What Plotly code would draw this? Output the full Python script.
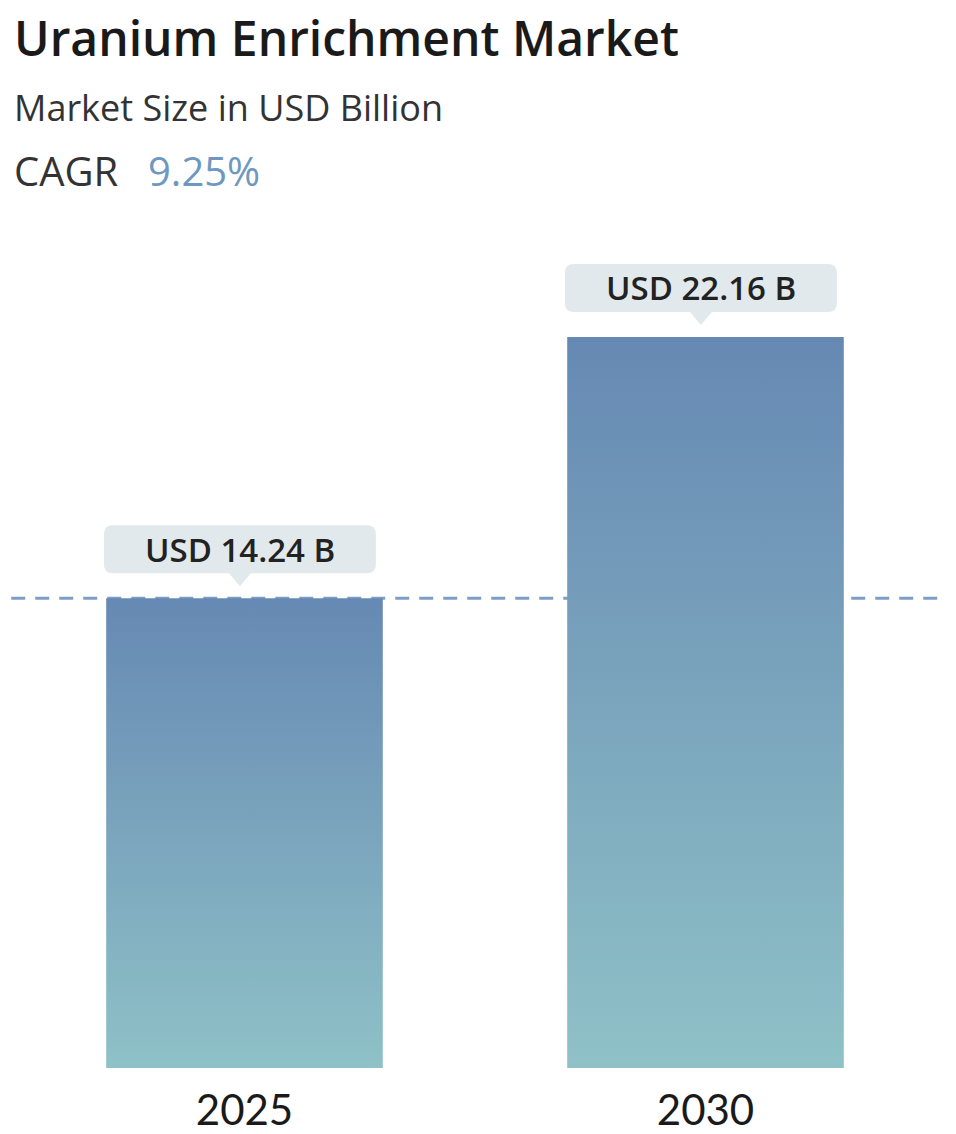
import plotly.graph_objects as go

# ---- data ----
years = ["2025", "2030"]
values = [14.24, 22.16]
labels = ["USD 14.24 B", "USD 22.16 B"]
title_text = "Uranium Enrichment Market"
subtitle_text = "Market Size in USD Billion"
cagr_label = "CAGR"
cagr_value = "9.25%"

# ---- style ----
W, H = 956, 1134
ML, MR, MT, MB = 14, 20, 230, 66
Y_MAX = 25.4
BAR_W = 0.6
TOP_COL = "#6689b3"
BOT_COL = "#8fc1c7"
BOX_COL = "#e2e9ec"
DASH_COL = "#7e9ec3"
FONT = "Open Sans"

plot_h = H - MT - MB
plot_w = W - ML - MR


def py(pix):
    return (H - MB - pix) / plot_h


def px(pix):
    return (pix - ML) / plot_w


fig = go.Figure()

for i, v in enumerate(values):
    x0, x1 = i - BAR_W / 2, i + BAR_W / 2
    fig.add_trace(go.Scatter(
        x=[x0, x1, x1, x0, x0],
        y=[0, 0, v, v, 0],
        mode="none",
        fill="toself",
        fillgradient=dict(type="vertical",
                          colorscale=[[0, BOT_COL], [1, TOP_COL]],
                          start=0, stop=v),
        hoverinfo="skip",
        showlegend=False,
    ))

# dashed reference line at the first value
fig.add_shape(type="line", xref="paper", yref="y",
              x0=-0.003, x1=1.01, y0=values[0], y1=values[0],
              line=dict(color=DASH_COL, width=3, dash="14px,10px"),
              layer="below")

# callout boxes (pixel-sized, anchored at each bar top)
bw, b0, b1, r, tw, th = 136, 25, 73, 9, 11, 12
box_path = (
    f"M {-bw + r},{b0} L {-tw},{b0} L 0,{th} L {tw},{b0} L {bw - r},{b0} "
    f"Q {bw},{b0} {bw},{b0 + r} L {bw},{b1 - r} Q {bw},{b1} {bw - r},{b1} "
    f"L {-bw + r},{b1} Q {-bw},{b1} {-bw},{b1 - r} L {-bw},{b0 + r} "
    f"Q {-bw},{b0} {-bw + r},{b0} Z"
)
for i, (v, lab) in enumerate(zip(values, labels)):
    fig.add_shape(type="path", xref="x", yref="y",
                  xsizemode="pixel", ysizemode="pixel",
                  xanchor=i - 0.01, yanchor=v, path=box_path,
                  fillcolor=BOX_COL, line=dict(width=0), layer="above")
    fig.add_annotation(x=i - 0.01, y=v, xref="x", yref="y", text=lab,
                       showarrow=False, yshift=(b0 + b1) / 2,
                       yanchor="middle", xanchor="center",
                       font=dict(family=FONT, size=33, color="#222222",
                                 weight=600))

# titles
fig.add_annotation(xref="paper", yref="paper", x=px(12), y=py(38),
                   xanchor="left", yanchor="middle", showarrow=False,
                   text=title_text,
                   font=dict(family=FONT, size=48, color="#1a1a1a", weight=600))
fig.add_annotation(xref="paper", yref="paper", x=px(12), y=py(107),
                   xanchor="left", yanchor="middle", showarrow=False,
                   text=subtitle_text,
                   font=dict(family=FONT, size=36, color="#333333"))
fig.add_annotation(xref="paper", yref="paper", x=px(12), y=py(170),
                   xanchor="left", yanchor="middle", showarrow=False,
                   text=cagr_label,
                   font=dict(family=FONT, size=40, color="#333333"))
fig.add_annotation(xref="paper", yref="paper", x=px(146), y=py(170),
                   xanchor="left", yanchor="middle", showarrow=False,
                   text=cagr_value,
                   font=dict(family=FONT, size=40, color="#6f98c0"))

fig.update_layout(
    width=W, height=H,
    margin=dict(l=ML, r=MR, t=MT, b=MB, autoexpand=False),
    paper_bgcolor="white", plot_bgcolor="white",
    xaxis=dict(range=[-0.5, 1.5], tickmode="array",
               tickvals=list(range(len(years))), ticktext=years,
               showgrid=False, zeroline=False, showline=False, ticks="",
               automargin=False, ticklabelstandoff=14, fixedrange=True,
               tickfont=dict(family="Lato", size=42, color="#1a1a1a")),
    yaxis=dict(range=[0, Y_MAX], visible=False, showgrid=False,
               zeroline=False, automargin=False, fixedrange=True),
    showlegend=False,
    hovermode=False,
)

fig.write_html("out.html",
               config={"displayModeBar": False},
               post_script="document.body.style.margin='0';"
                           "document.body.style.overflow='hidden';")
